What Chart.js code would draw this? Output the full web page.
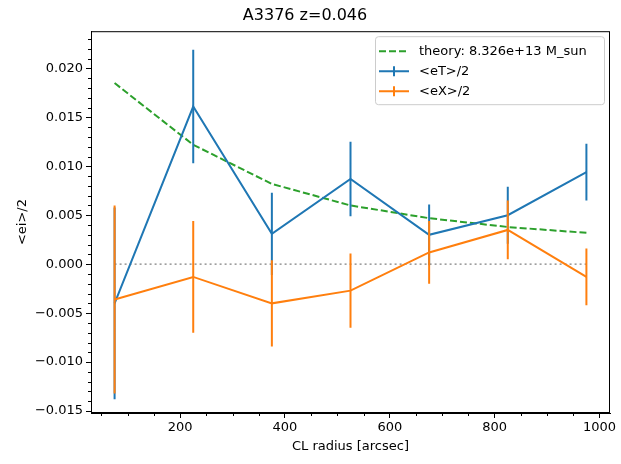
<!DOCTYPE html>
<html>
<head>
<meta charset="utf-8">
<script src="https://cdn.jsdelivr.net/npm/chart.js@4.4.0/dist/chart.umd.min.js"></script>
<style>
  html, body { margin: 0; padding: 0; background: #fff; }
</style>
</head>
<body>
<canvas id="c" width="621" height="464"></canvas>
<script>
// data
const radius = [75, 225, 375, 525, 675, 825, 975];
const eT = [-0.0040, 0.0161, 0.0031, 0.0087, 0.0030, 0.0050, 0.0094];
const eTerr = [0.0098, 0.0058, 0.0042, 0.0038, 0.0031, 0.0029, 0.0029];
const eX = [-0.0036, -0.0013, -0.0040, -0.0027, 0.0012, 0.0035, -0.0013];
const eXerr = [0.0096, 0.0057, 0.0044, 0.0038, 0.0032, 0.0030, 0.0029];
const theory = [0.0185, 0.0122, 0.0082, 0.0060, 0.0047, 0.0038, 0.0032];
const zero = [0, 0, 0, 0, 0, 0, 0];

const xTicks = [200, 400, 600, 800, 1000];
const yTicks = [-0.015, -0.010, -0.005, 0.000, 0.005, 0.010, 0.015, 0.020];

const legendItems = ['theory: 8.326e+13 M_sun', '<eT>/2', '<eX>/2'];

const BLUE = '#1f77b4', ORANGE = '#ff7f0e', GREEN = '#2ca02c';
const FONT = 'DejaVu Sans';

const pts = (ys) => radius.map((r, i) => ({ x: r, y: ys[i] }));

// vertical error bars, split by null gaps
function bars(vals, errs) {
  const out = [];
  radius.forEach((r, i) => {
    out.push({ x: r, y: vals[i] - errs[i] }, { x: r, y: vals[i] + errs[i] }, { x: r, y: null });
  });
  return out;
}

const extras = {
  id: 'extras',
  afterDraw(chart) {
    const { ctx, chartArea: a, scales: { x, y } } = chart;
    ctx.save();
    ctx.strokeStyle = '#000';
    ctx.lineWidth = 1;
    // minor ticks
    ctx.beginPath();
    for (let v = 50; v < 1020; v += 50) {
      if (v % 200 === 0) continue;
      const px = Math.round(x.getPixelForValue(v)) + 0.5;
      ctx.moveTo(px, a.bottom);
      ctx.lineTo(px, a.bottom + 3);
    }
    for (let k = -15; k <= 23; k++) {
      if (k % 5 === 0) continue;
      const py = Math.round(y.getPixelForValue(k / 1000)) + 0.5;
      ctx.moveTo(a.left, py);
      ctx.lineTo(a.left - 3, py);
    }
    ctx.stroke();
    // frame
    ctx.strokeRect(a.left + 0.5, a.top + 0.5, a.width - 1, a.height - 1);

    // legend
    const x0 = a.right - 235, y0 = a.top + 5, w = 229, h = 68;
    ctx.beginPath();
    ctx.roundRect(x0 + 0.5, y0 + 0.5, w, h, 3);
    ctx.fillStyle = 'rgba(255,255,255,0.8)';
    ctx.fill();
    ctx.strokeStyle = '#cccccc';
    ctx.stroke();

    ctx.font = '13px "' + FONT + '"';
    ctx.textBaseline = 'middle';
    ctx.fillStyle = '#000';
    const hx0 = x0 + 4, hx1 = x0 + 34;
    legendItems.forEach((t, i) => {
      const ry = y0 + 15 + i * 20;
      ctx.lineWidth = 2;
      if (i === 0) {
        ctx.strokeStyle = GREEN;
        ctx.setLineDash([7, 3]);
        ctx.beginPath(); ctx.moveTo(hx0, ry); ctx.lineTo(hx1, ry); ctx.stroke();
        ctx.setLineDash([]);
      } else {
        ctx.strokeStyle = i === 1 ? BLUE : ORANGE;
        const mx = (hx0 + hx1) / 2;
        ctx.beginPath();
        ctx.moveTo(hx0, ry); ctx.lineTo(hx1, ry);
        ctx.moveTo(mx, ry - 5); ctx.lineTo(mx, ry + 5);
        ctx.stroke();
      }
      ctx.fillText(t, x0 + 44, ry);
    });
    ctx.restore();
  }
};

new Chart(document.getElementById('c'), {
  type: 'line',
  data: {
    datasets: [
      { data: pts(zero), borderColor: '#808080', borderWidth: 1.3, borderDash: [2, 3], pointRadius: 0, order: 6 },
      { data: pts(theory), borderColor: GREEN, borderWidth: 2, borderDash: [7, 3], pointRadius: 0, order: 5 },
      { data: pts(eT), borderColor: BLUE, borderWidth: 2, pointRadius: 0, order: 4 },
      { data: bars(eT, eTerr), borderColor: BLUE, borderWidth: 2, pointRadius: 0, spanGaps: false, order: 3 },
      { data: pts(eX), borderColor: ORANGE, borderWidth: 2, pointRadius: 0, order: 2 },
      { data: bars(eX, eXerr), borderColor: ORANGE, borderWidth: 2, pointRadius: 0, spanGaps: false, order: 1 }
    ]
  },
  options: {
    responsive: false,
    devicePixelRatio: 1,
    animation: false,
    layout: { padding: { left: 0, right: 11, top: 0, bottom: 0 } },
    elements: { line: { tension: 0, fill: false, borderCapStyle: 'butt' } },
    plugins: {
      legend: { display: false },
      tooltip: { enabled: false },
      title: {
        display: true, text: 'A3376 z=0.046', color: '#000',
        font: { family: FONT, size: 16, weight: 'normal' },
        padding: { top: 6, bottom: 6 }
      }
    },
    scales: {
      x: {
        type: 'linear', min: 30, max: 1020,
        afterBuildTicks: (s) => { s.ticks = xTicks.map(v => ({ value: v })); },
        afterFit: (s) => { s.height = 51; },
        ticks: { color: '#000', font: { family: FONT, size: 13 }, padding: 2, maxRotation: 0, autoSkip: false, callback: (v) => String(v) },
        grid: { drawOnChartArea: false, tickLength: 5, color: '#000' },
        border: { color: '#000' },
        title: { display: true, text: 'CL radius [arcsec]', color: '#000', font: { family: FONT, size: 13 }, padding: { top: 0, bottom: 10 } }
      },
      y: {
        type: 'linear', min: -0.0152, max: 0.0238,
        afterBuildTicks: (s) => { s.ticks = yTicks.map(v => ({ value: v })); },
        afterFit: (s) => { s.width = 91; },
        ticks: { color: '#000', font: { family: FONT, size: 13 }, padding: 3, callback: (v) => v.toFixed(3).replace('-', '\u2212') },
        grid: { drawOnChartArea: false, tickLength: 5, color: '#000' },
        border: { color: '#000' },
        title: { display: true, text: '<ei>/2', color: '#000', font: { family: FONT, size: 13 }, padding: { top: 15, bottom: 0 } }
      }
    }
  },
  plugins: [extras]
});
</script>
</body>
</html>
